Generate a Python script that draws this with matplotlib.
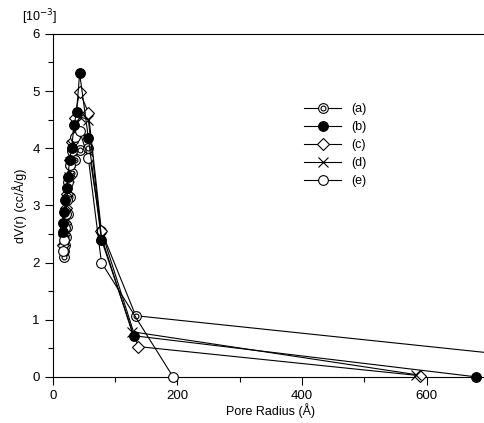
import matplotlib
matplotlib.use('Agg')
import matplotlib.pyplot as plt
from matplotlib.ticker import MultipleLocator
from matplotlib.legend_handler import HandlerTuple

plt.rcParams['font.family'] = ['Liberation Sans', 'DejaVu Sans']

# pore radius (A) and dV(r) (1e-3 cc/A/g) for each sample
x_a = [17.5, 18.5, 19.5, 21, 22, 24.5, 27, 30, 35, 43, 57, 78, 133, 1050]
y_a = [2.10, 2.20, 2.30, 2.45, 2.62, 2.85, 3.15, 3.57, 3.79, 3.97, 4.00, 2.55, 1.07, 0.02]
x_b = [16, 17, 18.5, 20, 22, 24, 27, 30, 34, 38, 43, 57, 78, 130, 680]
y_b = [2.53, 2.70, 2.88, 3.10, 3.30, 3.50, 3.80, 4.00, 4.40, 4.63, 5.31, 4.18, 2.40, 0.72, 0.0]
x_c = [16, 17.5, 19, 21, 23, 25.5, 28, 31, 35, 43, 57, 78, 137, 590]
y_c = [2.30, 2.50, 2.70, 2.95, 3.20, 3.50, 3.80, 4.10, 4.53, 4.99, 4.62, 2.55, 0.53, 0.02]
x_d = [16, 17.5, 19, 21, 23, 25.5, 28, 31, 35, 43, 57, 78, 127, 583]
y_d = [2.40, 2.60, 2.80, 3.00, 3.25, 3.50, 3.75, 4.05, 4.30, 4.55, 4.50, 2.45, 0.79, 0.04]
x_e = [17, 18, 19.5, 21, 23, 25, 28, 31, 35, 43, 57, 78, 193]
y_e = [2.20, 2.40, 2.60, 2.85, 3.10, 3.40, 3.70, 3.95, 4.20, 4.30, 3.82, 2.00, 0.0]
labels = ['(a)', '(b)', '(c)', '(d)', '(e)']

fig = plt.figure(figsize=(4.85, 4.23), dpi=100)
ax = fig.add_axes([0.109, 0.109, 0.899, 0.811])

lw = 0.8
kw = dict(color='black', lw=lw, mew=0.8, clip_on=False)
la1, = ax.plot(x_a, y_a, marker='o', ms=7, mfc='white', mec='black', zorder=3, **kw)
la2, = ax.plot(x_a, y_a, ls='none', marker='o', ms=3.5, mfc='white', mec='black', mew=0.8, clip_on=False, zorder=3)
lb, = ax.plot(x_b, y_b, marker='o', ms=7, mfc='black', mec='black', zorder=5, **kw)
lc, = ax.plot(x_c, y_c, marker='D', ms=6.5, mfc='white', mec='black', zorder=4, **kw)
ld, = ax.plot(x_d, y_d, marker='x', ms=7, mec='black', zorder=4, **kw)
le, = ax.plot(x_e, y_e, marker='o', ms=7, mfc='white', mec='black', zorder=4, **kw)

ax.set_xlim(0, 700)
ax.set_ylim(0, 6)
ax.xaxis.set_major_locator(MultipleLocator(200))
ax.xaxis.set_minor_locator(MultipleLocator(100))
ax.yaxis.set_major_locator(MultipleLocator(1))
ax.yaxis.set_minor_locator(MultipleLocator(0.5))
ax.tick_params(which='major', direction='out', length=6, width=0.8, labelsize=9.5)
ax.tick_params(which='minor', direction='out', length=3.5, width=0.8)
ax.spines['right'].set_visible(False)
for s in ['left', 'bottom', 'top']:
    ax.spines[s].set_linewidth(0.8)

ax.set_xlabel('Pore Radius (Å)', fontsize=9, labelpad=1)
ax.set_ylabel('dV(r) (cc/Å/g)', fontsize=9, labelpad=4)
fig.text(0.045, 0.935, '[10$^{-3}$]', fontsize=9, ha='left', va='bottom')

ax.legend([(la1, la2), lb, lc, ld, le], labels,
          handler_map={tuple: HandlerTuple(ndivide=1)},
          frameon=False, fontsize=9, handlelength=3.0, labelspacing=0.48,
          loc='upper left', bbox_to_anchor=(0.55, 0.83))

fig.savefig('out.png', dpi=100)
